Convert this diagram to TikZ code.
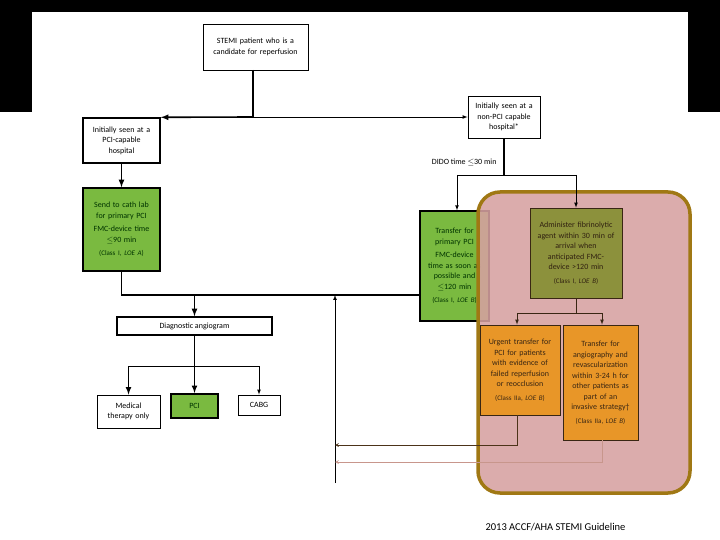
\documentclass[tikz,border=0pt]{standalone}
\usepackage{fontspec}
\setmainfont{Carlito}
\begin{document}
\begin{tikzpicture}[x=1pt,y=-1pt,
 box/.style={draw=black,line width=1.2pt,align=center,font=\fontsize{8}{10.5}\selectfont,inner sep=1pt},
 wbox/.style={box,fill=white,line width=0.8pt},
 gbox/.style={box,fill={rgb,255:red,122;green,186;blue,64},line width=1.4pt,text=black!80!green},
 obox/.style={box,fill={rgb,255:red,232;green,150;blue,40},draw=black!70!brown,line width=0.8pt,text=black!70!brown},
 ln/.style={line width=1.6pt},
 thn/.style={line width=0.7pt},
 arr/.style={-latex}]
\useasboundingbox (0,0) rectangle (720,540);
\fill[black] (0,0) rectangle (720,12);
\fill[black] (0,0) rectangle (32,112);
\fill[black] (688,0) rectangle (720,112);
% nodes
\node[wbox,minimum width=105,minimum height=46,text width=100] (stemi) at (255.5,47) {STEMI patient who is a\\candidate for reperfusion};
\node[wbox,line width=1.4pt,minimum width=77,minimum height=45,text width=72] (pcic) at (121.5,140.5) {Initially seen at a\\PCI-capable\\hospital};
\node[wbox,minimum width=72,minimum height=42,text width=68] (npci) at (504,117) {Initially seen at a\\non-PCI capable\\hospital*};
\node[gbox,minimum width=77,minimum height=83,text width=72] (cath) at (121.5,229.5) {Send to cath lab\\for primary PCI\\[3pt]FMC-device time\\$\le$90 min\\[3pt]{\scriptsize(Class I, \textit{LOE A})}};
\node[gbox,minimum width=69,minimum height=110,text width=66] (trans) at (454.5,266) {Transfer for\\primary PCI\\[3pt]FMC-device\\time as soon as\\possible and\\$\le$120 min\\[3pt]{\scriptsize(Class I, \textit{LOE B})}};
\node[wbox,line width=1.4pt,minimum width=155,minimum height=18] (diag) at (194.5,326) {Diagnostic angiogram};
\node[wbox,minimum width=63,minimum height=33,text width=60] (med) at (128.5,411.5) {Medical\\therapy only};
\node[gbox,line width=1.8pt,minimum width=47,minimum height=24] (pci) at (194.5,406) {PCI};
\node[wbox,minimum width=42,minimum height=20] (cabg) at (259,405) {CABG};
% pink panel
\fill[fill={rgb,255:red,214;green,160;blue,160},fill opacity=0.88,rounded corners=22] (478,192) rectangle (690,493);
\draw[draw={rgb,255:red,160;green,120;blue,20},line width=3.5pt,rounded corners=22] (478,192) rectangle (690,493);
\node[box,fill={rgb,255:red,140;green,145;blue,60},draw=black!70!brown,line width=0.8pt,text=black!75!brown,minimum width=92,minimum height=90,text width=90] (admin) at (576,253) {Administer fibrinolytic\\agent within 30 min of\\arrival when\\anticipated FMC-\\device >120 min\\[3pt]{\scriptsize(Class I, \textit{LOE B})}};
\node[obox,minimum width=80,minimum height=90,text width=78] (urg) at (520,370) {Urgent transfer for\\PCI for patients\\with evidence of\\failed reperfusion\\or reocclusion\\[3pt]{\scriptsize(Class IIa, \textit{LOE B})}};
\node[obox,minimum width=75,minimum height=115,text width=73] (ang) at (600.5,382.5) {Transfer for\\angiography and\\revascularization\\within 3-24 h for\\other patients as\\part of an\\invasive strategy\textdagger\\[3pt]{\scriptsize(Class IIa, \textit{LOE B})}};
% connectors
\coordinate (j1) at (253,117);
\draw[ln] (253,70) -- (j1);
\draw[ln,arr] (j1) -- (pcic.north east);
\draw[thn,arr] (j1) -- (npci.west |- j1);
\draw[ln,arr] (pcic.south) -- (cath.north);
\coordinate (j2) at (121.5,295);
\draw[ln] (cath.south) -- (j2) -- (trans.west |- j2);
\draw[ln,arr] (194.5,295) -- (diag.north);
\draw[ln] (diag.south) -- (194.5,366);
\draw[thn] (med.north |- 0,366) -- (cabg.north |- 0,366);
\draw[ln,arr] (194.5,366) -- (pci.north);
\draw[ln,arr] (med.north |- 0,366) -- (med.north);
\draw[thn,arr] (cabg.north |- 0,366) -- (cabg.north);
\draw[ln] (npci.south) -- (504,175);
\node[font=\fontsize{8}{9}\selectfont,anchor=east] (dido) at (500,162) {DIDO time $\le$30 min};
\draw[thn] (457,175) -- (576,175);
\draw[thn,arr] (457,175) -- (trans.north -| 457,0);
\draw[thn,arr] (576,175) -- (admin.north);
\draw[thn,draw=black!70!brown] (admin.south) -- (576,313);
\draw[thn,draw=black!70!brown] (517,313) -- (602,313);
\draw[thn,draw=black!70!brown,arr] (517,313) -- (urg.north -| 517,0);
\draw[thn,draw=black!70!brown,arr] (602,313) -- (ang.north -| 602,0);
\coordinate (b1) at (335,445);
\coordinate (b2) at (335,462);
\coordinate (b3) at (335,483);
\draw[thn,arr] (b3) -- (335,295);
\draw[thn,draw=black!60!brown,-stealth] (urg.south -| 517,0) -- (517,445) -- (b1);
\draw[thn,draw={rgb,255:red,200;green,150;blue,140},-stealth] (ang.south -| 602,0) -- (602,462) -- (b2);
\node[font=\fontsize{10.5}{12}\selectfont,anchor=west] (foot) at (482,527) {2013 ACCF/AHA STEMI Guideline};
\end{tikzpicture}
\end{document}
